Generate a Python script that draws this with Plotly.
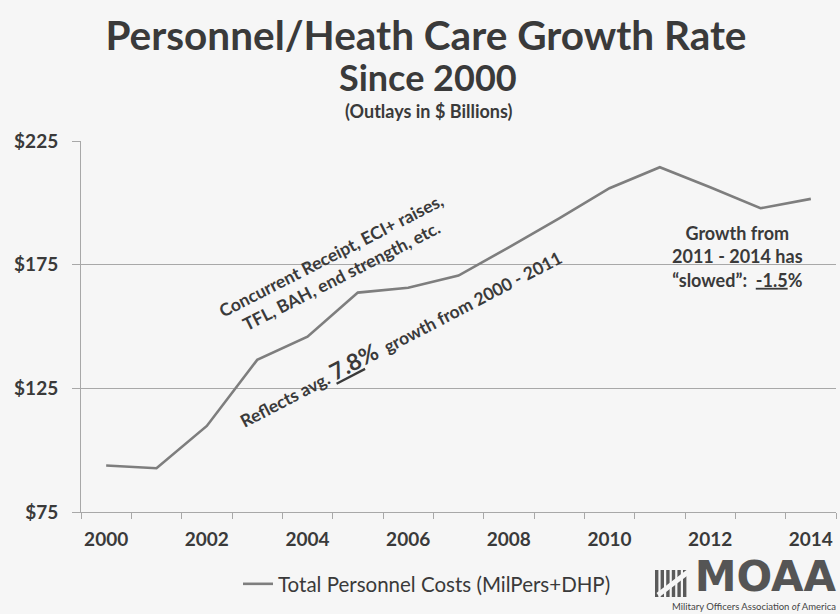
import plotly.graph_objects as go

# Outlays, $ billions
years = list(range(2000, 2015))
total_costs = [93.8, 92.7, 109.8, 136.5, 145.9, 163.7, 165.7, 170.6,
               182.0, 193.7, 205.9, 214.4, 206.3, 197.8, 201.6]
y_ticks = [75, 125, 175, 225]
y_tick_labels = ["$75", "$125", "$175", "$225"]
x_tick_years = list(range(2000, 2015, 2))
x_tick_labels = [str(y) for y in x_tick_years]

BG = "#f6f6f6"
INK = "#3a3a3a"
LINE = "#7e7e7e"
GRID = "#a8a8a8"
FONT = "Lato"

W, H = 840, 614
L, R, T, B = 81, 4, 141, 102
PW, PH = W - L - R, H - T - B


def px(xp, yp):
    """Page pixel -> paper coordinates."""
    return (xp - L) / PW, (H - B - yp) / PH


fig = go.Figure()
fig.add_trace(go.Scatter(
    x=years, y=total_costs, mode="lines",
    name="Total Personnel Costs (MilPers+DHP)",
    line=dict(color=LINE, width=2.6),
))

fig.update_layout(
    width=W, height=H,
    margin=dict(l=L, r=R, t=T, b=B),
    paper_bgcolor=BG, plot_bgcolor=BG,
    font=dict(family=FONT, color=INK),
    title=dict(
        text="Personnel/Heath Care Growth Rate",
        font=dict(size=40.5, weight="bold", color=INK),
        xref="container", x=426 / W, xanchor="center",
        yref="container", y=1 - 36 / H, yanchor="middle",
    ),
    showlegend=True,
    legend=dict(
        orientation="h", x=px(238, 0)[0], y=px(0, 584)[1],
        xanchor="left", yanchor="middle",
        font=dict(size=20.5, color=INK), bgcolor="rgba(0,0,0,0)",
    ),
    xaxis=dict(
        range=[1999.5, 2014.5],
        tickmode="array", tickvals=x_tick_years, ticktext=x_tick_labels,
        ticks="outside", ticklen=10, tickcolor="rgba(0,0,0,0)",
        tickfont=dict(size=19, weight="bold", color=INK),
        showgrid=False, zeroline=False,
        showline=True, linecolor=GRID, linewidth=1,
        minor=dict(tickmode="linear", tick0=1999.5, dtick=1,
                   ticks="outside", ticklen=6, tickcolor=GRID, showgrid=False),
    ),
    yaxis=dict(
        range=[75, 225],
        tickmode="array", tickvals=y_ticks, ticktext=y_tick_labels,
        ticks="outside", ticklen=8, tickcolor=GRID,
        ticklabelstandoff=10,
        tickfont=dict(size=19, weight="bold", color=INK),
        showgrid=True, gridcolor=GRID, gridwidth=1,
        zeroline=False, showline=True, linecolor=GRID, linewidth=1,
    ),
)

notes = []


def note(text, xp, yp, size, angle=0, family=FONT, color=INK,
         xanchor="center", yanchor="middle", align="center"):
    x, y = px(xp, yp)
    notes.append(dict(
        text=text, x=x, y=y, xref="paper", yref="paper",
        xanchor=xanchor, yanchor=yanchor, showarrow=False,
        textangle=angle, align=align,
        font=dict(family=family, size=size, color=color),
    ))


# subtitle lines
note("<b>Since 2000</b>", 428, 77, 36)
note("<b>(Outlays in $ Billions)</b>", 428, 111, 18)

# commentary on the chart
note("<b>Concurrent Receipt, ECI+ raises,<br>TFL, BAH, end strength, etc.</b>",
     336, 266, 17.5, angle=-27)
note("<b>Reflects avg. <span style='font-size:23px'><u>7.8</u>%</span>  growth from 2000 - 2011</b>",
     400, 337, 17.5, angle=-27.5)
note("<b>Growth from<br>2011 - 2014 has<br>\u201cslowed\u201d:  <u>-1.5</u>%</b>",
     737, 256, 18)

# association logo: word mark with the full name underneath
note("<span style='font-size:42px;font-family:DejaVu Sans;color:#555555'><b>MOAA</b></span>"
     "<br><span style='font-size:9.5px'>Military Officers Association <i>of</i> America</span>",
     839, 614, 14.5, color="#444444", xanchor="right", yanchor="bottom", align="right")

fig.update_layout(annotations=notes)

shapes = []
for i in range(6):
    x0 = 655 + i * 5.6
    a = px(x0, 570)
    b = px(x0 + 3.4, 597)
    shapes.append(dict(type="rect", xref="paper", yref="paper",
                       x0=a[0], y0=b[1], x1=b[0], y1=a[1],
                       fillcolor="#5a5a5a", line=dict(width=0)))
p0 = px(658, 595)
p1 = px(688, 572)
shapes.append(dict(type="line", xref="paper", yref="paper",
                   x0=p0[0], y0=p0[1], x1=p1[0], y1=p1[1],
                   line=dict(color=BG, width=5)))
fig.update_layout(shapes=shapes)

fig.write_html("out.html")
